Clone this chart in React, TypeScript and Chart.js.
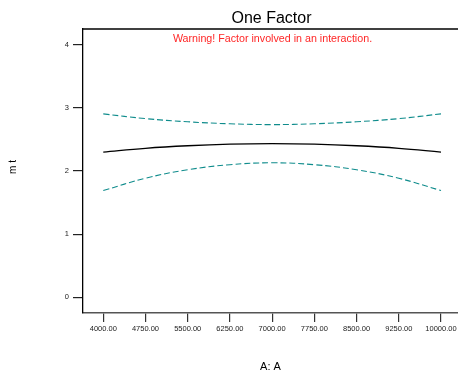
import React, { useEffect, useRef } from "react";
import { Chart, registerables } from "chart.js";

Chart.register(...registerables);

const xValues = [4000, 4750, 5500, 6250, 7000, 7750, 8500, 9250, 10000];
const predicted = [2.3, 2.36, 2.4, 2.425, 2.433, 2.425, 2.4, 2.36, 2.3];
const upperCI = [2.905, 2.83, 2.78, 2.748, 2.735, 2.748, 2.78, 2.83, 2.905];
const lowerCI = [1.69, 1.885, 2.02, 2.1, 2.13, 2.1, 2.02, 1.885, 1.69];
const xTicks = [4000, 4750, 5500, 6250, 7000, 7750, 8500, 9250, 10000];
const yTicks = [0, 1, 2, 3, 4];

const titleText = "One Factor";
const warningText = "Warning! Factor involved in an interaction.";
const xTitle = "A: A";
const yTitle = "m t";

const FONT = "'Liberation Sans', Arial, sans-serif";

const toPoints = (ys: number[]) => xValues.map((x, i) => ({ x, y: ys[i] }));

const textPlugin = {
  id: "customText",
  afterDraw(chart: any) {
    const { ctx, chartArea } = chart;
    const cx = (chartArea.left + chartArea.right) / 2;
    ctx.save();
    // top border
    ctx.strokeStyle = "#000";
    ctx.lineWidth = 1.5;
    ctx.beginPath();
    ctx.moveTo(chartArea.left, chartArea.top);
    ctx.lineTo(chartArea.right, chartArea.top);
    ctx.stroke();

    ctx.textAlign = "center";
    ctx.textBaseline = "middle";
    ctx.fillStyle = "#000";
    ctx.font = `16px ${FONT}`;
    ctx.fillText(titleText, cx + 1, 18.5);

    ctx.fillStyle = "#ff2626";
    ctx.font = `10.7px ${FONT}`;
    ctx.fillText(warningText, cx + 2, 39.5);

    ctx.fillStyle = "#000";
    ctx.font = `11px ${FONT}`;
    ctx.fillText(xTitle, cx, 367);

    ctx.translate(13.5, 167);
    ctx.rotate(-Math.PI / 2);
    ctx.font = `10px ${FONT}`;
    ctx.fillText(yTitle, 0, 0);
    ctx.restore();
  },
};

export default function App() {
  const ref = useRef<HTMLCanvasElement>(null);

  useEffect(() => {
    if (!ref.current) return;
    const chart = new Chart(ref.current, {
      type: "line",
      data: {
        datasets: [
          {
            data: toPoints(upperCI),
            borderColor: "#0f8c8c",
            borderWidth: 1.1,
            borderDash: [6, 3],
            pointRadius: 0,
            tension: 0.4,
            fill: false,
          },
          {
            data: toPoints(predicted),
            borderColor: "#000",
            borderWidth: 1.3,
            pointRadius: 0,
            tension: 0.4,
            fill: false,
          },
          {
            data: toPoints(lowerCI),
            borderColor: "#0f8c8c",
            borderWidth: 1.1,
            borderDash: [6, 3],
            pointRadius: 0,
            tension: 0.4,
            fill: false,
          },
        ],
      },
      options: {
        responsive: false,
        animation: false,
        layout: { padding: { top: 29, right: 0, bottom: 0, left: 0 } },
        plugins: {
          legend: { display: false },
          tooltip: { enabled: false },
          title: { display: false },
        },
        scales: {
          x: {
            type: "linear",
            min: 3640,
            max: 10302,
            afterBuildTicks: (axis: any) => {
              axis.ticks = xTicks.map((v) => ({ value: v }));
            },
            afterFit: (axis: any) => {
              axis.height = 59;
              axis.paddingLeft = 0;
              axis.paddingRight = 0;
            },
            grid: {
              drawOnChartArea: false,
              drawTicks: true,
              tickLength: 9,
              color: "#333",
              lineWidth: 1.2,
            },
            border: { display: true, color: "#555", width: 1.6 },
            ticks: {
              autoSkip: false,
              maxRotation: 0,
              padding: 2,
              color: "#222",
              font: { family: FONT, size: 7.5 },
              callback: (v: any) => Number(v).toFixed(2),
            },
          },
          y: {
            type: "linear",
            min: -0.25,
            max: 4.25,
            afterBuildTicks: (axis: any) => {
              axis.ticks = yTicks.map((v) => ({ value: v }));
            },
            afterFit: (axis: any) => {
              axis.width = 83;
              axis.paddingTop = 0;
              axis.paddingBottom = 0;
            },
            grid: {
              drawOnChartArea: false,
              drawTicks: true,
              tickLength: 10,
              color: "#222",
              lineWidth: 1.2,
            },
            border: { display: true, color: "#000", width: 1.3 },
            ticks: {
              padding: 4,
              color: "#222",
              font: { family: FONT, size: 7.5 },
              callback: (v: any) => String(v),
            },
          },
        },
      },
      plugins: [textPlugin],
    } as any);
    return () => chart.destroy();
  }, []);

  return (
    <div style={{ position: "fixed", left: 0, top: 0, width: 458, height: 372, background: "#fff" }}>
      <canvas ref={ref} width={458} height={372} style={{ width: 458, height: 372 }} />
    </div>
  );
}
